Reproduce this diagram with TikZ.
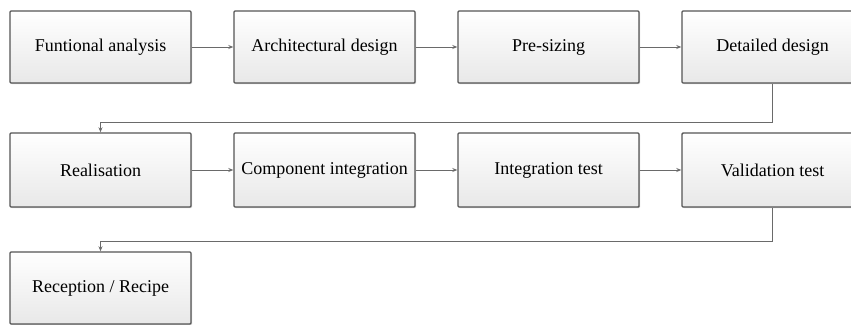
\documentclass[tikz,border=0pt]{standalone}
\usepackage{fontspec}
\setmainfont{Liberation Serif}
\usetikzlibrary{arrows.meta,shadows}
\definecolor{boxline}{HTML}{555555}
\definecolor{arrline}{HTML}{6A6A6A}
\begin{document}
\begin{tikzpicture}[x=1pt,y=-1pt,
  stepbox/.style={draw=boxline, line width=1.4pt, rounded corners=1pt,
    top color=white, bottom color=black!9,
    drop shadow={shadow xshift=1pt, shadow yshift=-1pt, opacity=0.35},
    minimum width=181pt, minimum height=72pt, inner sep=0pt,
    font=\fontsize{18}{20}\selectfont, text=black},
  arr/.style={draw=arrline, line width=1pt, -{Stealth[length=5pt,width=4pt]}}]
\useasboundingbox (0,0) rectangle (851,324);
\clip (0,0) rectangle (851,324);
\fill[white] (0,0) rectangle (851,324);
\node[stepbox] (b1) at (100.5,47) {Funtional analysis};
\node[stepbox] (b2) at (324.5,47) {Architectural design};
\node[stepbox] (b3) at (548.5,47) {Pre-sizing};
\node[stepbox] (b4) at (772.5,47) {Detailed design};
\node[stepbox, minimum height=74pt] (b5) at (100.5,170) {Realisation};
\node[stepbox, minimum height=74pt] (b6) at (324.5,170) {Component integration};
\node[stepbox, minimum height=74pt] (b7) at (548.5,170) {Integration test};
\node[stepbox, minimum height=74pt] (b8) at (772.5,170) {Validation test};
\node[stepbox] (b9) at (100.5,288) {Reception / Recipe};
\draw[arr] (b1) -- (b2);
\draw[arr] (b2) -- (b3);
\draw[arr] (b3) -- (b4);
\draw[arr] (b4.south) -- ++(0,39) -| (b5.north);
\draw[arr] (b5) -- (b6);
\draw[arr] (b6) -- (b7);
\draw[arr] (b7) -- (b8);
\draw[arr] (b8.south) -- ++(0,34) -| (b9.north);
\end{tikzpicture}
\end{document}
